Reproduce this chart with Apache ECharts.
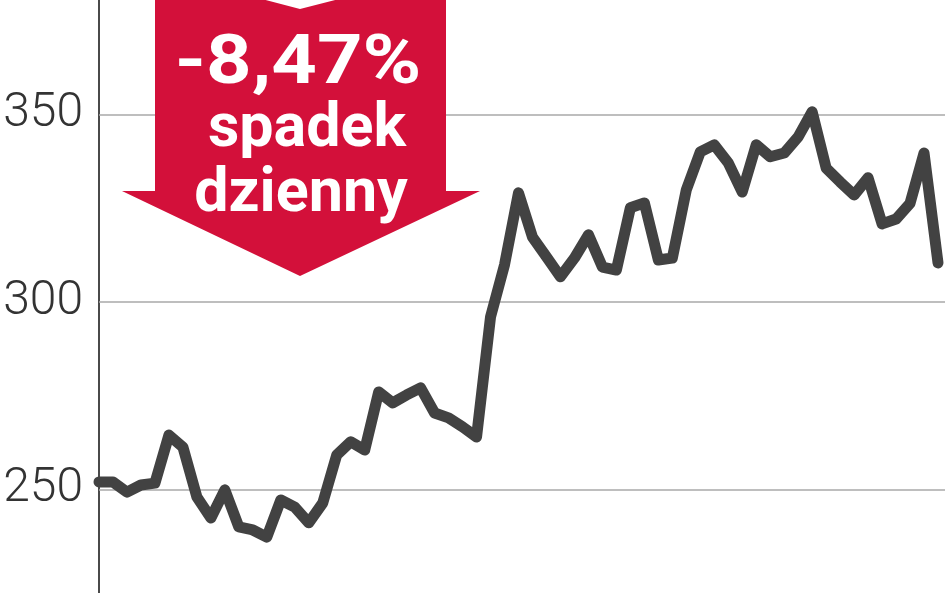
<!DOCTYPE html>
<html>
<head>
<meta charset="utf-8">
<script src="https://cdn.jsdelivr.net/npm/echarts@6/dist/echarts.min.js"></script>
<style>
html,body{margin:0;padding:0;background:#fff;}
#chart{width:948px;height:593px;}
</style>
</head>
<body>
<div id="chart"></div>
<script>
// Session index (daily quotes)
const days = Array.from({length: 61}, (_, i) => i);
// Closing values
const prices = [
  252.0, 252.0, 249.3, 251.2, 251.7, 264.5, 261.3, 248.0, 242.4, 249.9,
  240.0, 239.2, 237.3, 247.2, 245.3, 241.1, 246.4, 259.2, 262.7, 260.5,
  276.0, 273.1, 275.2, 277.1, 270.4, 269.1, 266.7, 264.0, 296.0, 309.9,
  329.1, 317.3, 312.0, 306.7, 311.7, 317.9, 309.3, 308.5, 325.1, 326.4,
  311.2, 311.7, 329.9, 340.0, 341.9, 337.1, 329.3, 341.9, 338.7, 339.7,
  344.0, 350.7, 335.7, 332.0, 328.5, 333.1, 320.8, 322.1, 326.3, 339.7,
  310.4
];
const yTicks = [250, 300, 350];
const badgeLines = ['-8,47%', 'spadek', 'dzienny'];

const chart = echarts.init(document.getElementById('chart'), null, {renderer: 'canvas'});
const RED = '#d3103a';
chart.setOption({
  animation: false,
  backgroundColor: '#ffffff',
  grid: {left: 99, right: 3, top: 0, bottom: 0, containLabel: false},
  xAxis: {
    type: 'value', min: 0, max: 60.5, show: false
  },
  yAxis: {
    type: 'value', min: 222.4, max: 380.5,
    axisLine: {show: true, lineStyle: {color: '#4a4a4a', width: 2}},
    axisTick: {show: false},
    splitLine: {show: false},
    axisLabel: {
      customValues: yTicks,
      color: '#333333', fontSize: 48, fontWeight: 300, fontFamily: 'Roboto',
      margin: 16
    }
  },
  series: [{
    type: 'line',
    data: days.map((d, i) => [d, prices[i]]),
    symbol: 'none',
    lineStyle: {color: '#424242', width: 11, join: 'round', cap: 'round'},
    z: 5,
    markLine: {
      silent: true, symbol: 'none', z: 1,
      label: {show: false},
      lineStyle: {color: '#a9a9a9', width: 1.5, type: 'solid'},
      data: yTicks.map(v => ({yAxis: v}))
    }
  }],
  graphic: [
    {
      type: 'polygon', z: 10,
      shape: {points: [[155,-2],[258,-2],[300,9],[343,-2],[446,-2],[446,191],[480,191],[300,276],[122,191],[155,191]]},
      style: {fill: RED}
    },
    {
      type: 'text', z: 11, x: 298, y: 66, scaleX: 1.17, originX: 0, originY: 0,
      style: {text: badgeLines[0], fill: '#fff', font: 'bold 68px Roboto', align: 'center', verticalAlign: 'middle'}
    },
    {
      type: 'text', z: 11, x: 307, y: 131,
      style: {text: badgeLines[1], fill: '#fff', font: 'bold 61px Roboto', align: 'center', verticalAlign: 'middle'}
    },
    {
      type: 'text', z: 11, x: 301, y: 196,
      style: {text: badgeLines[2], fill: '#fff', font: 'bold 61px Roboto', align: 'center', verticalAlign: 'middle'}
    }
  ]
});
</script>
</body>
</html>
